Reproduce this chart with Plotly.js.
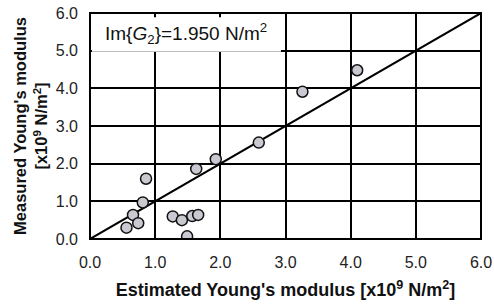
<!DOCTYPE html>
<html>
<head>
<meta charset="utf-8">
<script src="https://cdn.plot.ly/plotly-3.0.1.min.js"></script>
<style>html,body{margin:0;padding:0;background:#fff;}#chart{width:494px;height:306px;}</style>
</head>
<body>
<div id="chart"></div>
<script>
const estimated = [0.56, 0.66, 0.74, 0.81, 0.86, 1.27, 1.41, 1.49, 1.57, 1.66, 1.63, 1.93, 2.59, 3.26, 4.10];
const measured  = [0.30, 0.64, 0.42, 0.97, 1.60, 0.60, 0.50, 0.07, 0.61, 0.64, 1.86, 2.12, 2.56, 3.91, 4.48];
const diagX = [0, 6];
const diagY = [0, 6];
const tickVals = [0, 1, 2, 3, 4, 5, 6];
const tickText = ["0.0", "1.0", "2.0", "3.0", "4.0", "5.0", "6.0"];
const noteText = "Im{<i>G</i><sub>2</sub>}=1.950 N/m<sup>2</sup>";

const font = "Liberation Sans, Arial, Helvetica, sans-serif";

const traces = [
  {x: diagX, y: diagY, mode: "lines", line: {color: "#000", width: 2}, hoverinfo: "skip", showlegend: false},
  {x: estimated, y: measured, mode: "markers",
   marker: {size: 11, color: "#c9c9d1", line: {color: "#111", width: 1.5}},
   showlegend: false}
];

const axisCommon = {
  range: [0, 6], tickvals: tickVals, ticktext: tickText,
  showgrid: true, gridcolor: "#000", gridwidth: 2,
  zeroline: false, showline: false, ticks: "",
  tickfont: {family: font, size: 16, color: "#222"}
};

const layout = {
  width: 494, height: 306,
  margin: {l: 90, r: 13, t: 13, b: 67},
  paper_bgcolor: "#fff", plot_bgcolor: "#fff",
  xaxis: Object.assign({}, axisCommon, {
    ticklabelstandoff: 12,
    title: {text: "Estimated Young's modulus [x10<sup>9</sup> N/m<sup>2</sup>]", font: {family: font, size: 18, color: "#111", weight: "bold"}, standoff: 13}
  }),
  yaxis: Object.assign({}, axisCommon, {
    ticklabelstandoff: 11,
    title: {text: "Measured Young's modulus<br>[x10<sup>9</sup> N/m<sup>2</sup>]", font: {family: font, size: 16.5, color: "#111", weight: "bold"}, standoff: 3}
  }),
  shapes: [
    {type: "rect", xref: "x", yref: "y", x0: 0.03, x1: 2.93, y0: 4.97, y1: 5.89, fillcolor: "#fff", line: {width: 0}, layer: "above"},
    {type: "rect", xref: "paper", yref: "paper", x0: 0, x1: 1, y0: 0, y1: 1, line: {color: "#000", width: 2}, layer: "above"}
  ],
  annotations: [
    {text: noteText, xref: "x", yref: "y", x: 0.2, y: 5.45, xanchor: "left", yanchor: "middle", showarrow: false,
     font: {family: font, size: 19, color: "#111"}}
  ]
};

Plotly.newPlot("chart", traces, layout, {displayModeBar: false, staticPlot: true});
</script>
</body>
</html>
